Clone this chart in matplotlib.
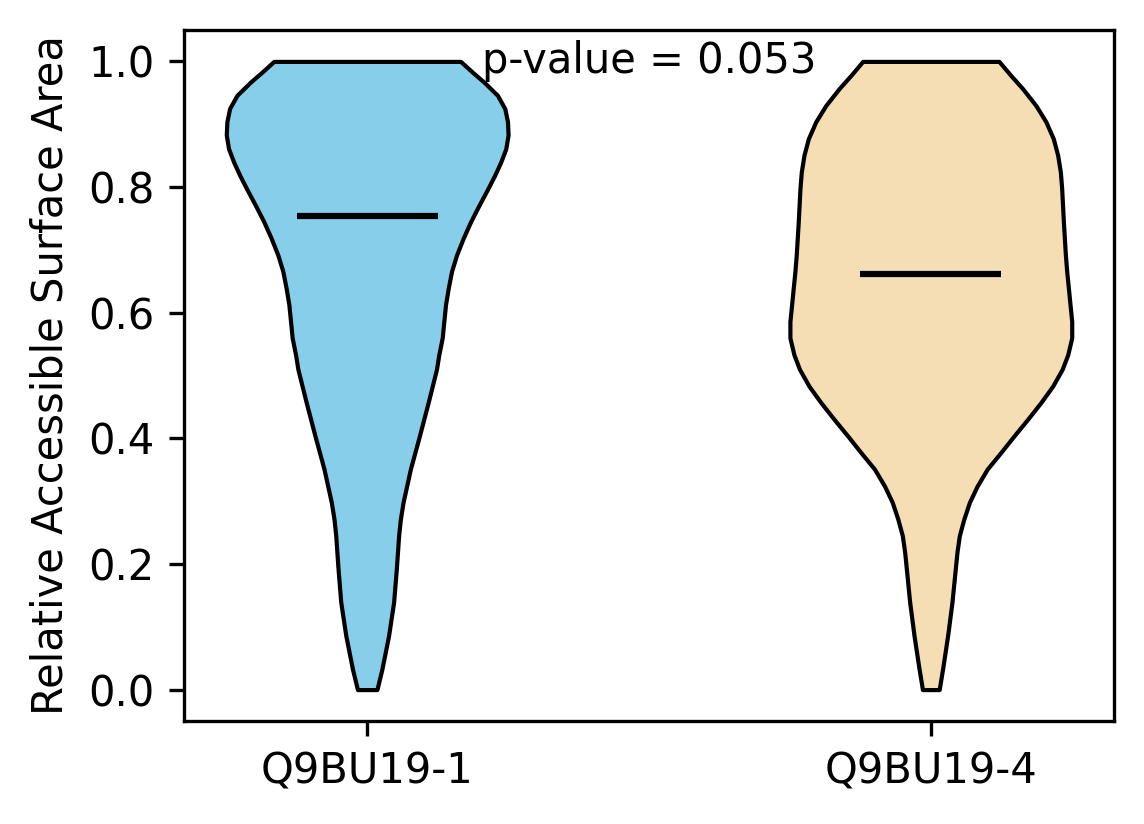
import matplotlib
matplotlib.use('Agg')
import matplotlib.pyplot as plt
import numpy as np

# etiquetas e valores
labels = ['Q9BU19-1', 'Q9BU19-4']
positions = [1, 2]
colors = ['skyblue', 'wheat']
centers = [0.754, 0.662]
p_text = 'p-value = 0.053'

# perfil do violino 1: altura y e densidade relativa (ax.violin normaliza)
y1 = [0.0, 0.033, 0.086, 0.139, 0.192, 0.245, 0.271, 0.298, 0.351, 0.404, 0.457,
      0.510, 0.533, 0.560, 0.586, 0.613, 0.639, 0.666, 0.692, 0.719, 0.745, 0.771,
      0.798, 0.819, 0.840, 0.861, 0.883, 0.904, 0.925, 0.946, 0.967, 0.983, 1.0]
d1 = [9.7, 14.7, 21.3, 26.3, 29.0, 31.3, 33.0, 35.7, 43.0, 52.0, 60.7,
      69.0, 71.3, 74.7, 76.3, 78.0, 80.7, 84.0, 89.0, 95.7, 103.0, 111.3,
      120.3, 127.0, 133.0, 138.0, 140.3, 139.7, 137.0, 129.7, 116.3, 104.7, 93.0]

# perfil do violino 2
y2 = [0.0, 0.033, 0.086, 0.139, 0.192, 0.219, 0.245, 0.271, 0.298, 0.324, 0.351,
      0.377, 0.404, 0.430, 0.457, 0.483, 0.510, 0.533, 0.560, 0.586, 0.613, 0.639,
      0.666, 0.692, 0.745, 0.798, 0.824, 0.851, 0.877, 0.904, 0.930, 0.957, 0.978, 1.0]
d2 = [8.3, 11.7, 16.7, 21.0, 24.3, 26.0, 28.3, 32.7, 38.3, 46.0, 56.0,
      69.3, 82.7, 96.0, 109.3, 121.0, 130.5, 136.0, 140.0, 140.0, 138.3, 136.7,
      135.0, 133.7, 131.7, 130.0, 128.7, 126.0, 121.7, 114.3, 104.3, 91.0, 79.3, 67.7]

# montar as estatisticas para ax.violin
stats = []
for ys, ds, c in zip([y1, y2], [d1, d2], centers):
    stats.append({'coords': np.array(ys), 'vals': np.array(ds), 'mean': c,
                  'median': c, 'min': min(ys), 'max': max(ys)})

fig = plt.figure(figsize=(1144 / 300, 824 / 300), dpi=300)
ax = fig.add_axes([184 / 1144, 1 - 721 / 824, 930 / 1144, 691 / 824])

parts = ax.violin(stats, positions=positions, widths=0.5,
                  showmeans=False, showextrema=False, showmedians=True)
for body, col in zip(parts['bodies'], colors):
    body.set_facecolor(col)
    body.set_edgecolor('black')
    body.set_linewidth(1)
    body.set_alpha(1)
parts['cmedians'].set_color('black')
parts['cmedians'].set_linewidth(1.5)

ax.set_xticks(positions)
ax.set_xticklabels(labels)
ax.set_ylabel('Relative Accessible Surface Area')
ax.text(1.5, 1.0, p_text, ha='center', va='center')

plt.savefig('out.png', dpi=300)
